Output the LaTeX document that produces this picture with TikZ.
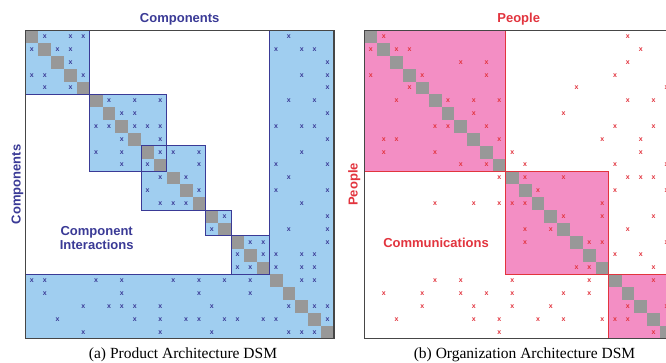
\documentclass[tikz,border=0pt]{standalone}
\usepackage{fontspec}
\setmainfont{Liberation Serif}
\setsansfont{Liberation Sans}
\definecolor{navy}{RGB}{58,58,150}
\definecolor{skyfill}{RGB}{160,206,240}
\definecolor{pinkfill}{RGB}{243,142,196}
\definecolor{redline}{RGB}{226,52,62}
\definecolor{diaggray}{RGB}{152,152,152}
\definecolor{framegray}{RGB}{70,70,70}
\begin{document}
\begin{tikzpicture}[x=1pt,y=-1pt,
  diagcell/.style={fill=diaggray},
  prodfill/.style={fill=skyfill},
  orgfill/.style={fill=pinkfill},
  prodedge/.style={draw=navy,line width=1.1pt},
  orgedge/.style={draw=redline,line width=1.1pt},
  dsmframe/.style={draw=framegray,line width=1.3pt},
  bxmark/.style={inner sep=0pt,text=navy,font=\sffamily\bfseries\fontsize{7}{7}\selectfont},
  rxmark/.style={inner sep=0pt,text=redline,font=\sffamily\bfseries\fontsize{7}{7}\selectfont},
  headlabel/.style={inner sep=0pt,font=\sffamily\bfseries\fontsize{13}{12}\selectfont},
  caption/.style={inner sep=0pt,anchor=base,font=\fontsize{15.5}{16}\selectfont}]
\clip (0,0) rectangle (666,363);
\fill[white] (0,0) rectangle (666,363);

% ---------- (a) product architecture DSM ----------
\begin{scope}[shift={(25.5pt,-30.2pt)},x=12.85pt,y=-12.85pt]
  \path[prodfill] (0,0) rectangle (5,5);
  \path[prodfill] (5,5) rectangle (11,11);
  \path[prodfill] (9,9) rectangle (14,14);
  \path[prodfill] (14,14) rectangle (16,16);
  \path[prodfill] (16,16) rectangle (19,19);
  \path[prodfill] (19,0) -- (24,0) -- (24,24) -- (0,24) -- (0,19) -- (19,19) -- cycle;
  \foreach \i in {0,...,23} \fill[diagcell] (\i,\i) rectangle ++(1,1);
  \foreach \r/\c in {
    0/1,0/3,0/4,0/20,
    1/0,1/2,1/3,1/19,1/21,1/22,
    2/3,2/23,
    3/0,3/1,3/4,3/21,3/23,
    4/1,4/3,4/23,
    5/6,5/8,5/10,5/20,5/22,
    6/7,6/8,6/23,
    7/5,7/6,7/8,7/9,7/10,7/19,7/21,7/22,
    8/7,8/10,8/23,
    9/5,9/7,9/10,9/11,9/13,9/21,
    10/7,10/9,10/13,10/19,10/23,
    11/10,11/12,11/20,
    12/9,12/13,12/19,12/23,
    13/10,13/11,13/12,13/21,
    14/15,14/23,
    15/14,15/20,15/23,
    16/17,16/18,16/23,
    17/16,17/18,17/19,17/21,17/22,
    18/16,18/17,18/19,18/21,18/22,
    19/0,19/1,19/5,19/7,19/11,19/13,19/15,19/17,19/21,19/22,
    20/1,20/7,20/13,20/17,
    21/4,21/6,21/7,21/8,21/10,21/14,21/20,21/22,21/23,
    22/2,22/8,22/10,22/12,22/13,22/15,22/16,22/18,22/19,22/23,
    23/4,23/10,23/14,23/20,23/21,23/22}
    \node[bxmark] (pm-\r-\c) at (\c+0.5,\r+0.5) {x};
  \path[prodedge] (0,0) rectangle (5,5);
  \path[prodedge] (5,5) rectangle (11,11);
  \path[prodedge] (9,9) rectangle (14,14);
  \path[prodedge] (14,14) rectangle (16,16);
  \path[prodedge] (16,16) rectangle (19,19);
  \path[prodedge] (19,0) -- (19,19) -- (0,19);
  \path[dsmframe] (0,0) rectangle (24,24);
\end{scope}

\node[headlabel,text=navy,anchor=base] (ptop) at (179.7,22.6) {Components};
\node[headlabel,text=navy,anchor=base,rotate=90] (pside) at (20.6,184.4) {Components};
\node[headlabel,text=navy,align=center] (pinter) at (96.7,238) {Component\\Interactions};
\node[caption] (pcap) at (183,358.3) {(a) Product Architecture DSM};

% ---------- (b) organization architecture DSM ----------
\begin{scope}[shift={(364.5pt,-30.2pt)},x=12.85pt,y=-12.85pt]
  \path[orgfill] (0,0) rectangle (11,11);
  \path[orgfill] (11,11) rectangle (19,19);
  \path[orgfill] (19,19) rectangle (24,24);
  \foreach \i in {0,...,23} \fill[diagcell] (\i,\i) rectangle ++(1,1);
  \foreach \r/\c in {
    0/1,0/20,
    1/0,1/2,1/3,1/21,
    2/7,2/9,2/20,
    3/0,3/4,3/9,3/19,
    4/3,4/16,4/23,
    5/2,5/6,5/8,5/10,5/20,5/22,
    6/8,6/15,
    7/5,7/6,7/9,7/19,7/22,
    8/1,8/2,8/10,8/18,8/21,
    9/1,9/5,9/11,9/21,
    10/7,10/9,10/12,10/19,10/23,
    11/10,11/12,11/15,11/20,11/21,11/22,
    12/13,12/19,12/23,
    13/5,13/8,13/10,13/11,13/12,13/18,
    14/15,14/18,14/22,
    15/12,15/14,15/20,
    16/12,16/17,16/18,16/23,
    17/19,17/21,
    18/16,18/17,18/22,
    19/5,19/7,19/11,19/17,19/22,
    20/1,20/4,20/7,20/9,20/11,20/15,20/17,
    21/4,21/8,21/11,21/14,21/20,21/23,
    22/2,22/8,22/10,22/13,22/15,22/18,22/19,22/20,
    23/10,23/22}
    \node[rxmark] (om-\r-\c) at (\c+0.5,\r+0.5) {x};
  \path[orgedge] (0,0) rectangle (11,11);
  \path[orgedge] (11,11) rectangle (19,19);
  \path[orgedge] (19,19) rectangle (24,24);
  \path[dsmframe] (0,0) rectangle (24,24);
\end{scope}

\node[headlabel,text=redline,anchor=base] (otop) at (518.7,22.2) {People};
\node[headlabel,text=redline,anchor=base,rotate=90] (oside) at (357.6,184.4) {People};
\node[headlabel,text=redline] (ocomm) at (436,242.7) {Communications};
\node[caption] (ocap) at (524.5,358.3) {(b) Organization Architecture DSM};
\end{tikzpicture}
\end{document}
